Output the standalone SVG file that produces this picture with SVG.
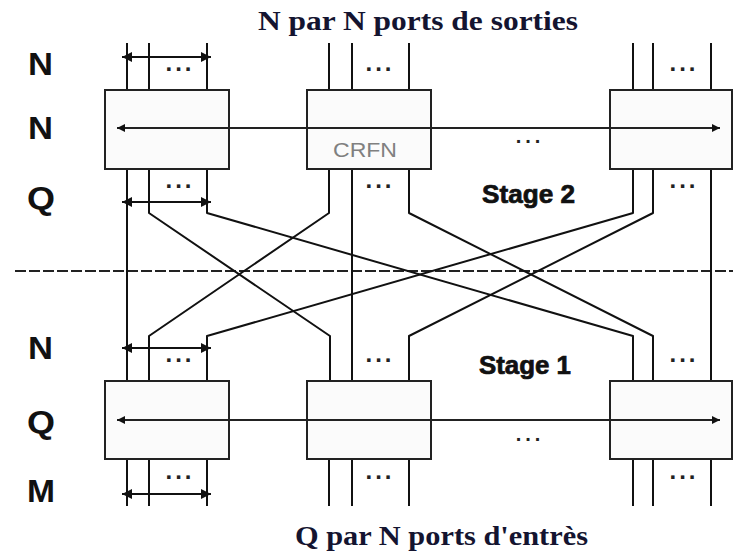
<svg xmlns="http://www.w3.org/2000/svg" width="733" height="552" viewBox="0 0 733 552">
<style>
.box{fill:#fbfbfb;stroke:#222;stroke-width:2}
.ln{fill:none;stroke:#111;stroke-width:2;stroke-linejoin:round}
.bus{fill:none;stroke:#222;stroke-width:1.8}
.lbl{font-family:"Liberation Sans",Arial,sans-serif;font-weight:bold;font-size:31px;fill:#111}
.stg{font-family:"Liberation Sans",Arial,sans-serif;font-weight:bold;font-size:25px;fill:#111;stroke:#111;stroke-width:0.7}
.ttl{font-family:"Liberation Serif","Times New Roman",serif;font-weight:bold;font-size:27px;fill:#141430}
.dots{font-family:"Liberation Sans",Arial,sans-serif;font-weight:bold;font-size:24px;fill:#222;text-anchor:middle;letter-spacing:3px}
.cb{font-family:"Liberation Sans",Arial,sans-serif;font-size:21px;fill:#808080}
</style>
<defs>
<marker id="ah" viewBox="0 0 10 10" refX="10" refY="5" markerWidth="10" markerHeight="8" markerUnits="userSpaceOnUse" orient="auto-start-reverse">
<path d="M0,0 L10,5 L0,10 z" fill="#111"/>
</marker>
<marker id="ah2" viewBox="0 0 10 10" refX="10" refY="5" markerWidth="11" markerHeight="10" markerUnits="userSpaceOnUse" orient="auto-start-reverse">
<path d="M0,0 L10,5 L0,10 z" fill="#111"/>
</marker>
</defs>
<rect width="733" height="552" fill="#fff"/>

<text class="ttl" x="258" y="30" textLength="320" lengthAdjust="spacingAndGlyphs">N par N ports de sorties</text>
<text class="ttl" x="295" y="545" textLength="293" lengthAdjust="spacingAndGlyphs">Q par N ports d'entrès</text>

<g id="row-labels">
<text class="lbl" x="28" y="75" textLength="25" lengthAdjust="spacingAndGlyphs">N</text>
<text class="lbl" x="28" y="139" textLength="25" lengthAdjust="spacingAndGlyphs">N</text>
<text class="lbl" x="27" y="209" textLength="28" lengthAdjust="spacingAndGlyphs">Q</text>
<text class="lbl" x="28" y="359" textLength="25" lengthAdjust="spacingAndGlyphs">N</text>
<text class="lbl" x="27" y="433" textLength="28" lengthAdjust="spacingAndGlyphs">Q</text>
<text class="lbl" x="27" y="502" textLength="28" lengthAdjust="spacingAndGlyphs">M</text>
</g>

<line x1="15" y1="271" x2="733" y2="271" stroke="#222" stroke-width="2" stroke-dasharray="11 3"/>

<g id="connectors">
<path class="ln" d="M127,43V90M149,43V90M207,43V90M329,43V90M352,43V90M409,43V90M633,43V90M653,43V90M711,43V90"/>
<path class="ln" d="M127,169V381M352,169V381M711,169V381"/>
<path class="ln" d="M149,169V213L330,336V381"/>
<path class="ln" d="M329,169V213L149,336V381"/>
<path class="ln" d="M207,169V213L633,336V381"/>
<path class="ln" d="M633,169V213L207,336V381"/>
<path class="ln" d="M409,169V213L653,336V381"/>
<path class="ln" d="M653,169V213L409,336V381"/>
<path class="ln" d="M127,459V506M149,459V506M207,459V506M329,459V506M352,459V506M409,459V506M633,459V506M653,459V506M711,459V506"/>
<line class="ln" x1="122" y1="57" x2="211" y2="57" marker-start="url(#ah2)" marker-end="url(#ah2)"/>
<line class="ln" x1="122" y1="202" x2="211" y2="202" marker-start="url(#ah2)" marker-end="url(#ah2)"/>
<line class="ln" x1="122" y1="348" x2="211" y2="348" marker-start="url(#ah2)" marker-end="url(#ah2)"/>
<line class="ln" x1="122" y1="494" x2="211" y2="494" marker-start="url(#ah2)" marker-end="url(#ah2)"/>
</g>

<g id="box-s2-1"><rect class="box" x="105" y="90" width="124" height="79"/></g>
<g id="box-s2-2"><rect class="box" x="307" y="90" width="124" height="79"/><text class="cb" x="333" y="157" textLength="64" lengthAdjust="spacingAndGlyphs">CRFN</text></g>
<g id="box-s2-3"><rect class="box" x="610" y="90" width="122" height="79"/></g>
<g id="box-s1-1"><rect class="box" x="105" y="381" width="124" height="78"/></g>
<g id="box-s1-2"><rect class="box" x="307" y="381" width="124" height="78"/></g>
<g id="box-s1-3"><rect class="box" x="610" y="381" width="122" height="78"/></g>

<g id="buses">
<line class="bus" x1="117" y1="128" x2="720" y2="128" marker-start="url(#ah)" marker-end="url(#ah)"/>
<line class="bus" x1="117" y1="420" x2="720" y2="420" marker-start="url(#ah)" marker-end="url(#ah)"/>
</g>

<g id="dots">
<text class="dots" x="180" y="71">...</text>
<text class="dots" x="380" y="71">...</text>
<text class="dots" x="684" y="71">...</text>
<text class="dots" x="180" y="188">...</text>
<text class="dots" x="380" y="188">...</text>
<text class="dots" x="684" y="188">...</text>
<text class="dots" x="180" y="362">...</text>
<text class="dots" x="380" y="362">...</text>
<text class="dots" x="684" y="362">...</text>
<text class="dots" x="180" y="479">...</text>
<text class="dots" x="380" y="479">...</text>
<text class="dots" x="684" y="479">...</text>
<text class="dots" x="530" y="143" style="letter-spacing:4px;font-size:20px">...</text>
<text class="dots" x="530" y="441" style="letter-spacing:4px;font-size:20px">...</text>
</g>

<text class="stg" x="482" y="203" textLength="93" lengthAdjust="spacingAndGlyphs">Stage 2</text>
<text class="stg" x="479" y="374" textLength="92" lengthAdjust="spacingAndGlyphs">Stage 1</text>
</svg>
